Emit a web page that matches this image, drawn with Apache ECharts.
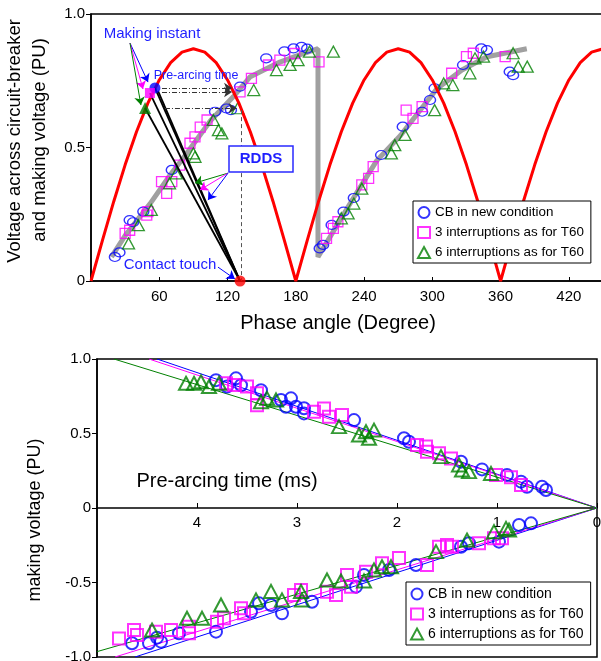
<!DOCTYPE html>
<html>
<head>
<meta charset="utf-8">
<script src="https://cdn.jsdelivr.net/npm/echarts@6/dist/echarts.min.js"></script>
<style>
  html, body { margin: 0; padding: 0; background: #fff; }
  #chart { width: 601px; height: 661px; }
</style>
</head>
<body>
<div id="chart"></div>
<script>
// ---- Upper panel: phase angle (degree) vs voltage (PU) ----
const redAngles = [0,10,20,30,40,50,60,70,80,90,100,110,120,130,140,150,160,170,180,
  190,200,210,220,230,240,250,260,270,280,290,300,310,320,330,340,350,360,
  370,380,390,400,410,420,430,440,450];
const redVolts = [0,0.151,0.298,0.435,0.559,0.666,0.753,0.818,0.857,0.870,0.857,0.818,0.753,0.666,0.559,0.435,0.298,0.151,0,
  0.151,0.298,0.435,0.559,0.666,0.753,0.818,0.857,0.870,0.857,0.818,0.753,0.666,0.559,0.435,0.298,0.151,0,
  0.151,0.298,0.435,0.559,0.666,0.753,0.818,0.857,0.870];

const grayAngles = [18,30,52,70,81,105,125,140,166,184,199.5,199.5,215,232,251,272,304,326,348,383];
const grayVolts  = [0.09,0.17,0.29,0.40,0.46,0.60,0.69,0.765,0.82,0.848,0.87,0.09,0.20,0.32,0.45,0.545,0.72,0.79,0.84,0.87];

const cbPhase = [[21,0.09],[25,0.107],[34,0.228],[37,0.22],[46,0.26],[71,0.416],[109,0.634],[119,0.646],[123,0.64],
  [131,0.728],[154,0.834],[170,0.86],[178,0.871],[185,0.877],[190,0.87],[201,0.122],[204,0.135],[211.5,0.21],
  [222,0.26],[231,0.311],[255,0.472],[274,0.578],[291,0.634],[298,0.678],[302,0.722],[327,0.809],[343,0.871],
  [348,0.865],[368,0.784],[371,0.771]];
const int3Phase = [[30,0.178],[34,0.19],[49,0.247],[50,0.26],[62,0.372],[66.5,0.328],[71,0.372],[78,0.434],[87,0.516],
  [91.4,0.54],[96,0.576],[102,0.603],[131,0.708],[141,0.759],[156,0.809],[166,0.827],[179,0.852],[200.4,0.821],
  [207,0.16],[213,0.197],[217,0.222],[238,0.36],[244,0.384],[248,0.428],[277,0.64],[283,0.609],[291,0.653],
  [317,0.778],[330,0.84],[336,0.853],[364,0.84]];
const int6Phase = [[33,0.141],[41.6,0.209],[53,0.266],[69,0.366],[75,0.403],[90,0.478],[91.4,0.465],[107.5,0.603],
  [112,0.565],[115,0.553],[129,0.647],[143,0.715],[163,0.79],[175,0.809],[182,0.827],[192,0.859],[213,0.859],
  [220,0.235],[226,0.253],[231,0.29],[238,0.346],[264,0.478],[267,0.509],[276,0.547],[302,0.64],[310,0.74],
  [318,0.734],[333,0.778],[337.5,0.834],[345,0.84],[371,0.853],[375.5,0.803],[383.4,0.803]];

// making instants (blue, magenta, green) and contact touch
const makingCB = [56.2, 0.723];
const making3 = [51.8, 0.704];
const making6 = [47.5, 0.648];
const contactTouch = [131, 0];

// ---- Lower panel: pre-arcing time (ms) vs making voltage (PU) ----
const cbPos = [[3.81,0.858],[3.70,0.815],[3.61,0.87],[3.56,0.824],[3.36,0.79],[3.16,0.725],[3.11,0.68],[3.06,0.736],
  [3.01,0.68],[2.93,0.635],[2.93,0.669],[2.43,0.59],[1.93,0.468],[1.88,0.445],[1.36,0.311],[1.15,0.259],[0.90,0.221],
  [0.76,0.177],[0.70,0.143],[0.55,0.143],[0.51,0.121]];
const int3Pos = [[3.71,0.837],[3.63,0.826],[3.50,0.815],[3.40,0.77],[3.40,0.69],[2.83,0.646],[2.73,0.668],[2.68,0.613],
  [2.55,0.624],[1.80,0.423],[1.71,0.412],[1.70,0.378],[1.58,0.367],[1.46,0.333],[1.01,0.221],[0.86,0.206],[0.76,0.154]];
const int6Pos = [[4.11,0.837],[4.03,0.837],[3.96,0.847],[3.88,0.815],[3.78,0.837],[3.36,0.713],[3.30,0.736],[3.21,0.725],
  [2.58,0.546],[2.38,0.49],[2.31,0.512],[2.23,0.523],[2.28,0.468],[1.56,0.345],[1.38,0.289],[1.35,0.255],[1.28,0.244],[1.06,0.232]];
const cbNeg = [[4.65,-0.908],[4.48,-0.908],[4.36,-0.897],[4.40,-0.87],[4.18,-0.841],[3.81,-0.83],[3.46,-0.696],[3.38,-0.64],
  [3.26,-0.651],[3.15,-0.707],[2.85,-0.629],[2.41,-0.528],[2.33,-0.45],[2.08,-0.416],[1.81,-0.383],[1.36,-0.26],
  [1.28,-0.237],[0.98,-0.226],[0.78,-0.114],[0.66,-0.103]];
const int3Neg = [[4.78,-0.875],[4.63,-0.819],[4.60,-0.852],[4.41,-0.83],[4.26,-0.819],[4.08,-0.841],[4.08,-0.797],[3.80,-0.763],
  [3.73,-0.74],[3.56,-0.673],[3.53,-0.707],[3.03,-0.584],[2.96,-0.55],[2.70,-0.562],[2.61,-0.584],[2.50,-0.45],[2.46,-0.528],
  [2.31,-0.428],[2.15,-0.37],[1.98,-0.336],[1.70,-0.383],[1.58,-0.26],[1.50,-0.248],[1.45,-0.26],[1.18,-0.237],[1.03,-0.203],[0.95,-0.203]];
const int6Neg = [[4.45,-0.819],[4.10,-0.74],[3.95,-0.74],[3.76,-0.651],[3.41,-0.617],[3.26,-0.56],[3.15,-0.617],[2.96,-0.56],
  [2.95,-0.617],[2.70,-0.483],[2.56,-0.49],[2.33,-0.49],[2.23,-0.416],[2.15,-0.394],[2.06,-0.394],[1.61,-0.293],[1.30,-0.215],
  [1.03,-0.159],[0.91,-0.137],[0.88,-0.148]];

// linear fits through the origin
const fitCbPos = [[0,0],[4.40,1]];
const fit3Pos  = [[0,0],[4.48,1]];
const fit6Pos  = [[0,0],[4.83,1]];
const fitCbNeg = [[0,0],[4.62,-1]];
const fit3Neg  = [[0,0],[4.82,-1]];
const fit6Neg  = [[0,0],[5,-0.964]];

const names = ['CB in new condition', '3 interruptions as for T60', '6 interruptions as for T60'];

const BLUE = '#0000ff', MAG = '#ff00ff', GREEN = '#008000', RED = '#ff0000', TXTBLUE = '#1f1fff';
const FONT = '"Liberation Sans", Arial, sans-serif';

const chart = echarts.init(document.getElementById('chart'), null, { renderer: 'canvas' });

function zip(a, b) { return a.map((v, i) => [v, b[i]]); }

function scatter(name, data, grid, kind, small) {
  const sym = { cb: 'circle', i3: 'rect', i6: 'triangle' }[kind];
  const col = { cb: BLUE, i3: MAG, i6: GREEN }[kind];
  let size;
  if (small) size = { cb: [11, 9], i3: [10, 10], i6: [12, 11] }[kind];
  else size = { cb: [12, 12], i3: [12, 12], i6: [14, 13] }[kind];
  return {
    type: 'scatter', name, data, xAxisIndex: grid, yAxisIndex: grid,
    symbol: sym, symbolSize: size, clip: false, z: 3,
    itemStyle: { color: 'rgba(255,255,255,0)', borderColor: col, borderWidth: small ? 1.3 : 2 },
    emphasis: { disabled: true }
  };
}

function fitLine(data, color) {
  return {
    type: 'line', data, xAxisIndex: 1, yAxisIndex: 1, showSymbol: false, z: 2,
    lineStyle: { color, width: 1 }, emphasis: { disabled: true }, silent: true
  };
}

function seg(a, b, color, opts) {
  opts = opts || {};
  return [
    { coord: a, symbol: 'none', lineStyle: { color, width: opts.width || 1.2, type: opts.type || 'solid' } },
    { coord: b, symbol: opts.arrow ? 'arrow' : 'none', symbolSize: opts.size || 8 }
  ];
}

const annotations = [
  // lines from making instants to contact touch
  seg(makingCB, contactTouch, '#000', { width: 1.8 }),
  seg([58.9, 0.712], contactTouch, '#000', { width: 1.8 }),
  seg(making3, contactTouch, '#000', { width: 1.8 }),
  seg(making6, contactTouch, '#000', { width: 1.8 }),
  // "Making instant" pointers
  seg([34.3, 0.891], [50.1, 0.745], BLUE, { arrow: true, width: 1 }),
  seg([34.3, 0.891], [45.7, 0.719], MAG, { arrow: true, width: 1 }),
  seg([34.3, 0.891], [43.9, 0.659], GREEN, { arrow: true, width: 1 }),
  // pre-arcing time
  seg([62.4, 0.723], [124, 0.723], '#333', { arrow: true, width: 1, type: [5, 2, 1, 2] }),
  seg([62.4, 0.708], [124, 0.708], '#333', { arrow: true, width: 1, type: [5, 2, 1, 2] }),
  seg([65, 0.647], [128, 0.647], '#333', { arrow: true, width: 1, type: [5, 2, 1, 2] }),
  seg([132.4, 0.64], [132.4, 0], '#555', { width: 1, type: [4, 3] }),
  // RDDS pointers
  seg([120.4, 0.404], [91.4, 0.367], GREEN, { arrow: true, width: 1 }),
  seg([120.4, 0.404], [95.8, 0.341], MAG, { arrow: true, width: 1 }),
  seg([120.4, 0.404], [102.8, 0.303], BLUE, { arrow: true, width: 1 }),
  // contact touch pointer
  seg([111.6, 0.052], [126.5, 0.0075], BLUE, { arrow: true, width: 1 })
];

function legendAt(left, top, fontSize, gap) {
  return {
    data: names, orient: 'vertical', left, top, itemWidth: 12, itemHeight: 11, itemGap: gap,
    textStyle: { fontSize, color: '#000', fontFamily: FONT },
    borderColor: '#000', borderWidth: 1, backgroundColor: '#fff',
    padding: [5, 7, 4, 4], selectedMode: false, z: 10
  };
}

const labelStyle = { fontSize: 15, color: '#000', fontFamily: FONT };
const axisLine = { lineStyle: { color: '#000', width: 1.5 } };

const option = {
  animation: false,
  backgroundColor: '#fff',
  textStyle: { fontFamily: FONT },
  grid: [
    { left: 91, right: -2, top: 14, bottom: 380, show: true, borderColor: '#000', borderWidth: 1.5,
      backgroundColor: 'transparent', outerBoundsMode: 'none', containLabel: false },
    { left: 97, right: 4, top: 359, bottom: 4, show: true, borderColor: '#000', borderWidth: 1.5,
      backgroundColor: 'transparent', outerBoundsMode: 'none', containLabel: false }
  ],
  xAxis: [
    { type: 'value', gridIndex: 0, min: 0, max: 450, interval: 60,
      axisLine, axisTick: { inside: true, length: 4, lineStyle: { color: '#000', width: 1 } },
      axisLabel: Object.assign({ margin: 8, showMinLabel: false, showMaxLabel: false }, labelStyle),
      splitLine: { show: false } },
    // time axis drawn along the zero line of the voltage axis
    { type: 'value', gridIndex: 1, min: 0, max: 5, interval: 1, inverse: true,
      position: 'bottom', offset: -149,
      axisLine: Object.assign({ onZero: false }, axisLine),
      axisTick: { inside: true, length: 5, lineStyle: { color: '#000', width: 1 } },
      axisLabel: Object.assign({ margin: 7, showMaxLabel: false }, labelStyle),
      splitLine: { show: false } }
  ],
  yAxis: [
    { type: 'value', gridIndex: 0, min: 0, max: 1, interval: 0.5,
      axisLine: Object.assign({ show: true }, axisLine),
      axisTick: { show: true, length: 5, lineStyle: { color: '#000', width: 1 } },
      axisLabel: Object.assign({ margin: 6, formatter: v => v === 0 ? '0' : v.toFixed(1) }, labelStyle),
      splitLine: { show: false } },
    { type: 'value', gridIndex: 1, min: -1, max: 1, interval: 0.5,
      axisLine: Object.assign({ show: true, onZero: false }, axisLine),
      axisTick: { show: true, length: 5, lineStyle: { color: '#000', width: 1 } },
      axisLabel: Object.assign({ margin: 6, formatter: v => v === 0 ? '0' : v.toFixed(1) }, labelStyle),
      splitLine: { show: false } }
  ],
  legend: [
    legendAt(413, 201, 13.4, 7),
    legendAt(406, 582, 14, 6)
  ],
  series: [
    { type: 'line', name: 'dielectric strength', data: zip(grayAngles, grayVolts), xAxisIndex: 0, yAxisIndex: 0,
      showSymbol: false, z: 1, lineStyle: { color: '#a0a0a0', width: 5 }, silent: true },
    scatter(names[0], cbPhase, 0, 'cb', true),
    scatter(names[1], int3Phase, 0, 'i3', true),
    scatter(names[2], int6Phase, 0, 'i6', true),
    { type: 'line', name: 'system voltage', data: zip(redAngles, redVolts), xAxisIndex: 0, yAxisIndex: 0,
      showSymbol: false, z: 4, lineStyle: { color: RED, width: 3 }, silent: true },
    { type: 'scatter', name: 'instants', xAxisIndex: 0, yAxisIndex: 0, z: 6, clip: false, silent: true,
      data: [
        { value: makingCB, symbol: 'circle', symbolSize: 11, itemStyle: { color: BLUE } },
        { value: making3, symbol: 'rect', symbolSize: 10, itemStyle: { color: MAG } },
        { value: making6, symbol: 'triangle', symbolSize: 12, itemStyle: { color: GREEN } },
        { value: contactTouch, symbol: 'circle', symbolSize: 11, itemStyle: { color: RED } }
      ],
      markLine: { silent: true, animation: false, label: { show: false }, emphasis: { disabled: true },
        symbol: ['none', 'none'], data: annotations }
    },
    fitLine(fitCbPos, BLUE), fitLine(fit3Pos, MAG), fitLine(fit6Pos, GREEN),
    fitLine(fitCbNeg, BLUE), fitLine(fit3Neg, MAG), fitLine(fit6Neg, GREEN),
    scatter(names[0], cbPos, 1, 'cb', false),
    scatter(names[1], int3Pos, 1, 'i3', false),
    scatter(names[2], int6Pos, 1, 'i6', false),
    scatter(names[0], cbNeg, 1, 'cb', false),
    scatter(names[1], int3Neg, 1, 'i3', false),
    scatter(names[2], int6Neg, 1, 'i6', false)
  ],
  graphic: [
    { type: 'text', x: 15, y: 141, rotation: Math.PI / 2, z: 20,
      style: { text: 'Voltage across circuit-breaker', fontSize: 18.5, fontFamily: FONT, fill: '#000', align: 'center', verticalAlign: 'middle' } },
    { type: 'text', x: 40, y: 140, rotation: Math.PI / 2, z: 20,
      style: { text: 'and making voltage (PU)', fontSize: 18.5, fontFamily: FONT, fill: '#000', align: 'center', verticalAlign: 'middle' } },
    { type: 'text', x: 338, y: 323, z: 20,
      style: { text: 'Phase angle (Degree)', fontSize: 20, fontFamily: FONT, fill: '#000', align: 'center', verticalAlign: 'middle' } },
    { type: 'text', x: 35, y: 520, rotation: Math.PI / 2, z: 20,
      style: { text: 'making voltage (PU)', fontSize: 18, fontFamily: FONT, fill: '#000', align: 'center', verticalAlign: 'middle' } },
    { type: 'text', x: 227, y: 481, z: 20,
      style: { text: 'Pre-arcing time (ms)', fontSize: 20, fontFamily: FONT, fill: '#000', align: 'center', verticalAlign: 'middle' } },
    { type: 'text', x: 152, y: 34, z: 20,
      style: { text: 'Making instant', fontSize: 15, fontFamily: FONT, fill: TXTBLUE, align: 'center', verticalAlign: 'middle' } },
    { type: 'text', x: 196, y: 76, z: 20,
      style: { text: 'Pre-arcing time', fontSize: 12.5, fontFamily: FONT, fill: TXTBLUE, align: 'center', verticalAlign: 'middle' } },
    { type: 'text', x: 170, y: 265, z: 20,
      style: { text: 'Contact touch', fontSize: 15, fontFamily: FONT, fill: TXTBLUE, align: 'center', verticalAlign: 'middle' } },
    { type: 'rect', z: 20, shape: { x: 229, y: 146, width: 64, height: 26 },
      style: { fill: '#fff', stroke: '#2a2aff', lineWidth: 1.5 } },
    { type: 'text', x: 261, y: 159, z: 21,
      style: { text: 'RDDS', fontSize: 15, fontWeight: 'bold', fontFamily: FONT, fill: TXTBLUE, align: 'center', verticalAlign: 'middle' } }
  ]
};

chart.setOption(option);
</script>
</body>
</html>
